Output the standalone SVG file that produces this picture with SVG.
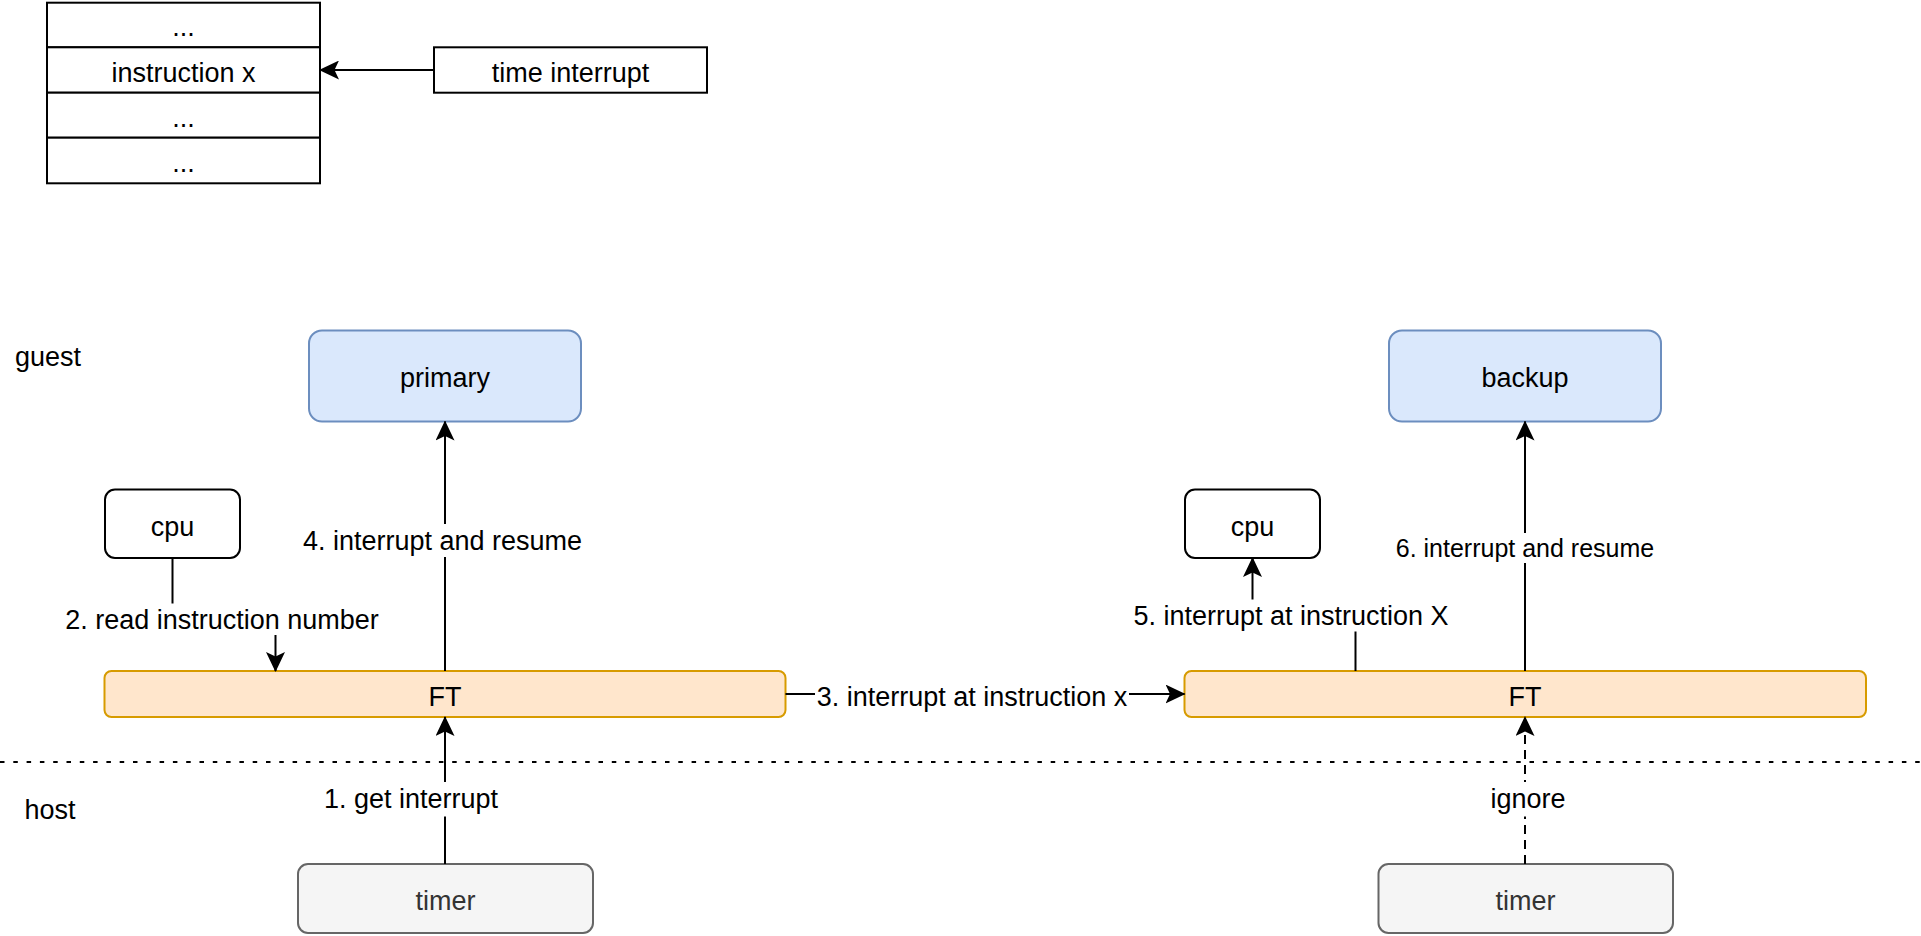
<svg xmlns="http://www.w3.org/2000/svg" width="1921" height="936" viewBox="0 0 1921 936">
<style>
text{font-family:"Liberation Sans",Arial,Helvetica,sans-serif;font-size:27px;fill:#000;text-anchor:middle}
.lbl{text-anchor:start}
.box{fill:#fff;stroke:#000;stroke-width:2}
.blue{fill:#dae8fc;stroke:#6c8ebf;stroke-width:2}
.ft{fill:#ffe6cc;stroke:#d79b00;stroke-width:2}
.grey{fill:#f5f5f5;stroke:#666;stroke-width:2}
.grey-t{fill:#333}
.edge{fill:none;stroke:#000;stroke-width:2}
.arr{marker-end:url(#ah)}
.dash{stroke-dasharray:9 6}
.bg{fill:#fff;stroke:none}
</style>
<defs>
<marker id="ah" viewBox="0 0 20 19" refX="19" refY="9.5" markerWidth="20" markerHeight="19" markerUnits="userSpaceOnUse" orient="auto">
<path d="M0,0 L20,9.5 L0,19 L4.5,9.5 Z" fill="#000"/>
</marker>
</defs>

<g id="table">
<rect class="box" x="47" y="2.7" width="273" height="44.6"/>
<rect class="box" x="47" y="47.3" width="273" height="45.4"/>
<rect class="box" x="47" y="92.7" width="273" height="45"/>
<rect class="box" x="47" y="137.7" width="273" height="45.6"/>
<text x="183.5" y="35.5">...</text>
<text x="183.5" y="81.5">instruction x</text>
<text x="183.5" y="126.7">...</text>
<text x="183.5" y="172">...</text>
</g>
<g id="time-interrupt">
<rect class="box" x="434" y="47.3" width="273" height="45.4"/>
<text x="570.5" y="81.5">time interrupt</text>
</g>

<g id="guest-label"><text class="lbl" x="15" y="366">guest</text></g>
<g id="host-label"><text class="lbl" x="24.5" y="819">host</text></g>

<g id="divider"><line x1="0" y1="762" x2="1921" y2="762" stroke="#000" stroke-width="2" stroke-dasharray="4.5 8.8"/></g>

<g id="primary">
<rect class="blue" x="309" y="330.5" width="272" height="91" rx="13"/>
<text x="445" y="386.5">primary</text>
</g>
<g id="cpu-left">
<rect class="box" x="105" y="489.5" width="135" height="68.5" rx="10"/>
<text x="172.5" y="535.5">cpu</text>
</g>
<g id="ft-left">
<rect class="ft" x="104.5" y="671" width="681" height="46" rx="7"/>
<text x="445" y="706">FT</text>
</g>
<g id="timer-left">
<rect class="grey" x="298" y="864" width="295" height="69" rx="10"/>
<text class="grey-t" x="445.5" y="909.5">timer</text>
</g>

<g id="backup">
<rect class="blue" x="1389" y="330.5" width="272" height="91" rx="13"/>
<text x="1525" y="386.5">backup</text>
</g>
<g id="cpu-right">
<rect class="box" x="1185" y="489.5" width="135" height="68.5" rx="10"/>
<text x="1252.5" y="535.5">cpu</text>
</g>
<g id="ft-right">
<rect class="ft" x="1184.5" y="671" width="681.5" height="46" rx="7"/>
<text x="1525" y="706">FT</text>
</g>
<g id="timer-right">
<rect class="grey" x="1378.5" y="864" width="294.5" height="69" rx="10"/>
<text class="grey-t" x="1525.5" y="909.5">timer</text>
</g>

<g id="connectors">
<path class="edge arr" d="M434,70 H320"/>
<path class="edge arr" d="M172.5,558 V620 H275.5 V671"/>
<path class="edge arr" d="M445,671 V421.5"/>
<path class="edge arr" d="M445,864 V717"/>
<path class="edge arr" d="M785.5,694 H1184.5"/>
<path class="edge arr" d="M1355.5,671 V616 H1252.5 V558"/>
<path class="edge arr" d="M1525,671 V421.5"/>
<path class="edge arr dash" d="M1525,864 V717"/>

<rect class="bg" x="65" y="603.5" width="315" height="31.5"/>
<text x="222" y="628.5">2. read instruction number</text>
<rect class="bg" x="302" y="524" width="281" height="33"/>
<text x="442.5" y="550">4. interrupt and resume</text>
<rect class="bg" x="815" y="678" width="314" height="32"/>
<text x="972" y="705.5">3. interrupt at instruction x</text>
<rect class="bg" x="1132" y="599.5" width="318" height="32"/>
<text x="1291" y="624.5">5. interrupt at instruction X</text>
<rect class="bg" x="1396" y="533" width="258" height="30"/>
<text x="1525" y="557" style="font-size:25px">6. interrupt and resume</text>
<rect class="bg" x="323" y="782" width="176" height="34.5"/>
<text x="411" y="808">1. get interrupt</text>
<rect class="bg" x="1489" y="782" width="78" height="34.5"/>
<text x="1528" y="808">ignore</text>
</g>
</svg>
